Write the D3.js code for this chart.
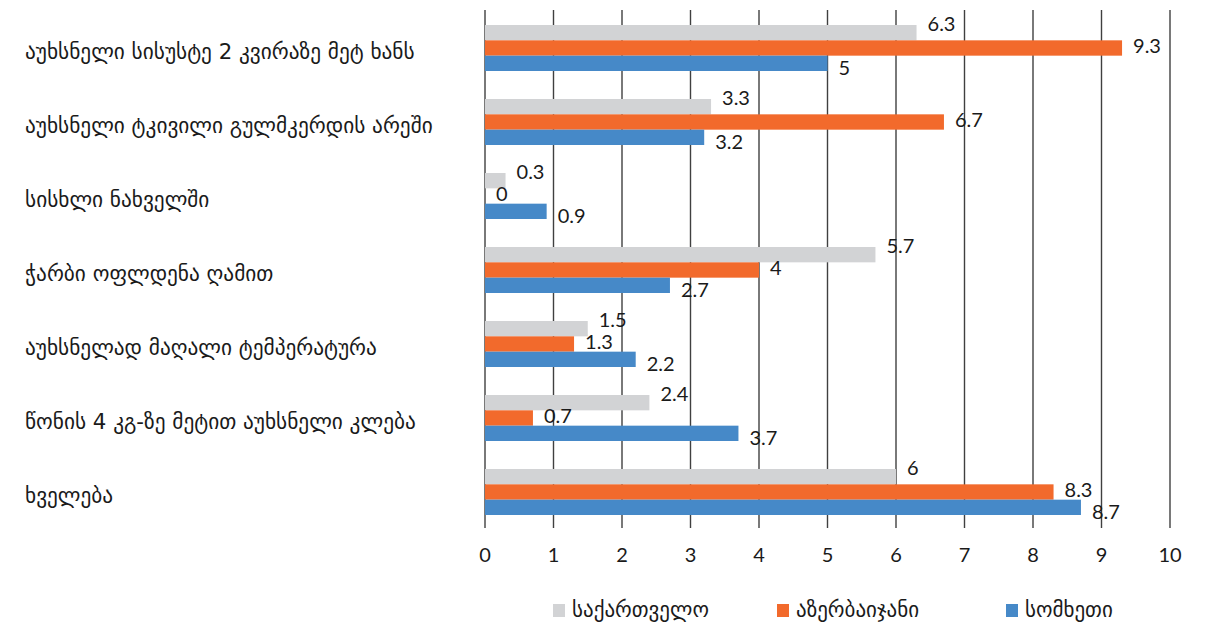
<!DOCTYPE html>
<html>
<head>
<meta charset="utf-8">
<script src="https://cdn.jsdelivr.net/npm/d3@7"></script>
<style>
  body { margin: 0; background: #fff; }
  text { font-family: "DejaVu Sans", sans-serif; fill: #1a1a1a; }
  .num { font-family: Lato, "Open Sans", sans-serif; }
</style>
</head>
<body>
<svg id="chart" width="1217" height="627"></svg>
<script>
// categories, top to bottom
const categories = [
  "აუხსნელი სისუსტე 2 კვირაზე მეტ ხანს",
  "აუხსნელი ტკივილი გულმკერდის არეში",
  "სისხლი ნახველში",
  "ჭარბი ოფლდენა ღამით",
  "აუხსნელად მაღალი ტემპერატურა",
  "წონის 4 კგ-ზე მეტით აუხსნელი კლება",
  "ხველება"
];
const seriesNames = ["საქართველო", "აზერბაიჯანი", "სომხეთი"];
const georgia    = [6.3, 3.3, 0.3, 5.7, 1.5, 2.4, 6];
const azerbaijan = [9.3, 6.7, 0,   4,   1.3, 0.7, 8.3];
const armenia    = [5,   3.2, 0.9, 2.7, 2.2, 3.7, 8.7];
const xTicks = [0, 1, 2, 3, 4, 5, 6, 7, 8, 9, 10];

const colors = ["#d2d3d5", "#f26a2c", "#4689c8"];
const values = [georgia, azerbaijan, armenia];

const svg = d3.select("#chart");

const x = d3.scaleLinear().domain([0, 10]).range([485, 1170]);
const y = d3.scaleBand().domain(categories).range([10, 528]);
const ySub = d3.scaleBand().domain(seriesNames).range([15, 61]);

// gridlines
svg.append("g")
  .selectAll("line")
  .data(xTicks)
  .join("line")
    .attr("x1", d => x(d)).attr("x2", d => x(d))
    .attr("y1", 10).attr("y2", 528)
    .attr("stroke", "#404040")
    .attr("stroke-width", 1.4);

// x tick labels
svg.append("g")
  .selectAll("text")
  .data(xTicks)
  .join("text")
    .attr("class", "num")
    .attr("x", d => x(d))
    .attr("y", 557)
    .attr("text-anchor", "middle")
    .attr("dominant-baseline", "middle")
    .attr("font-size", 20)
    .text(d => d);

// category labels
svg.append("g")
  .selectAll("text")
  .data(categories)
  .join("text")
    .attr("x", 25)
    .attr("y", d => y(d) + y.bandwidth() / 2 + 6)
    .attr("dominant-baseline", "middle")
    .attr("font-size", 21.3)
    .text(d => d);

// bars
const labelDy = [-7, 0, 7];
seriesNames.forEach((s, si) => {
  const g = svg.append("g");
  g.selectAll("rect")
    .data(categories)
    .join("rect")
      .attr("x", x(0))
      .attr("y", d => y(d) + ySub(s))
      .attr("width", (d, i) => x(values[si][i]) - x(0))
      .attr("height", ySub.bandwidth())
      .attr("fill", colors[si]);
  g.selectAll("text")
    .data(categories)
    .join("text")
      .attr("class", "num")
      .attr("x", (d, i) => x(values[si][i]) + 11)
      .attr("y", d => y(d) + ySub(s) + ySub.bandwidth() / 2 + labelDy[si])
      .attr("dominant-baseline", "middle")
      .attr("font-size", 20)
      .text((d, i) => values[si][i]);
});

// legend
const legendX = [553, 777, 1006];
const legend = svg.append("g")
  .selectAll("g")
  .data(seriesNames)
  .join("g")
    .attr("transform", (d, i) => `translate(${legendX[i]},611)`);
legend.append("rect")
  .attr("x", 0).attr("y", -7)
  .attr("width", 12).attr("height", 13)
  .attr("fill", (d, i) => colors[i]);
legend.append("text")
  .attr("x", 19)
  .attr("y", 0)
  .attr("dominant-baseline", "middle")
  .attr("font-size", 21)
  .text(d => d);
</script>
</body>
</html>
